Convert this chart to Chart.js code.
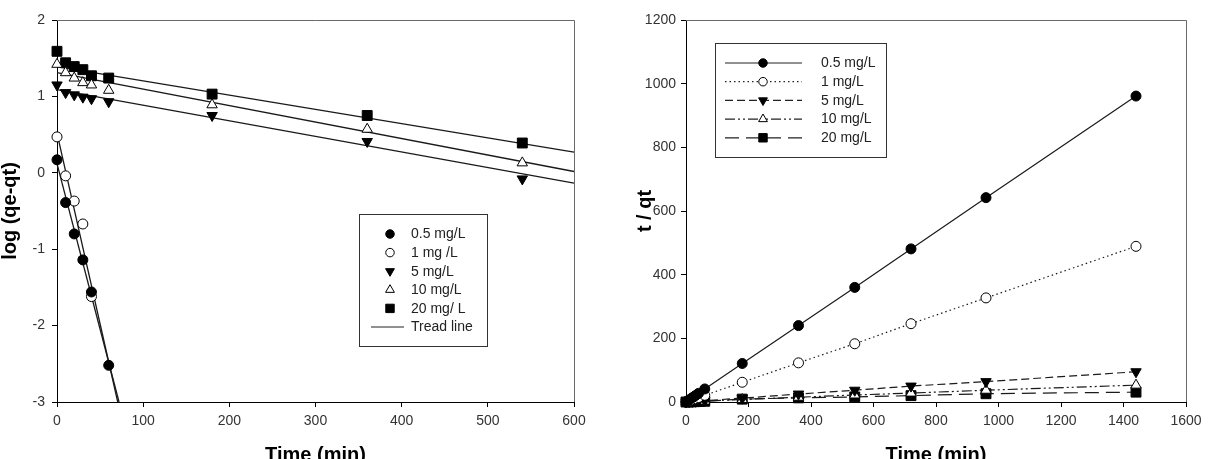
<!DOCTYPE html>
<html>
<head>
<meta charset="utf-8">
<script src="https://cdn.jsdelivr.net/npm/chart.js@4.4.0/dist/chart.umd.min.js"></script>
<style>
    html, body { margin: 0; padding: 0; background: #fff; overflow: hidden; }
    #wrap { position: relative; width: 1209px; height: 459px; overflow: hidden; background: #fff; }
    #left-chart { position: absolute; left: 0; top: 0; }
    #right-chart { position: absolute; left: 604px; top: 0; }
</style>
</head>
<body>
<div id="wrap">
    <canvas id="left-chart" width="604" height="470"></canvas>
    <canvas id="right-chart" width="605" height="470"></canvas>
</div>
<script>
// ---------- data: left panel, log (qe-qt) vs time ----------
const timeLeft = [0, 10, 20, 30, 40, 60, 180, 360, 540];
const logC05 = [0.17, -0.39, -0.80, -1.14, -1.56, -2.52];
const logC1 = [0.47, -0.04, -0.37, -0.67, -1.62];
const logC5 = [1.15, 1.05, 1.02, 0.99, 0.97, 0.93, 0.75, 0.41, -0.08];
const logC10 = [1.42, 1.31, 1.24, 1.18, 1.15, 1.08, 0.89, 0.57, 0.13];
const logC20 = [1.59, 1.44, 1.39, 1.35, 1.27, 1.24, 1.03, 0.75, 0.39];

// trend lines, start and end of each fitted line
const trendX05 = [0, 72];
const trendY05 = [0.12, -3];
const trendX1 = [0, 70.5];
const trendY1 = [0.52, -3];
const trendX5 = [0, 600];
const trendY5 = [1.09, -0.135];
const trendX10 = [0, 600];
const trendY10 = [1.31, 0.017];
const trendX20 = [0, 600];
const trendY20 = [1.39, 0.27];

const labelsLeft = ["0.5 mg/L", "1 mg /L", "5 mg/L", "10 mg/L", "20 mg/ L"];
const trendLabel = "Tread line";

// ---------- data: right panel, t/qt vs time ----------
const timeRight = [0, 10, 20, 30, 40, 60, 180, 360, 540, 720, 960, 1440];
const tq05 = [0, 7, 13.5, 20, 27, 41, 121, 240, 360, 481, 642, 961];
const tq1 = [0, 3.5, 7, 10.5, 14, 21, 62, 123, 183, 246, 327, 489];
const tq5 = [0, 0.8, 1.5, 2.3, 3, 4.5, 12, 25, 37, 50, 64, 95];
const tq10 = [0, 0.5, 1, 1.4, 1.9, 2.8, 8, 15, 22, 28, 37, 53];
const tq20 = [0, 0.4, 0.8, 1.1, 1.5, 2.2, 9, 13, 16, 20, 26, 31];

const labelsRight = ["0.5 mg/L", "1 mg/L", "5 mg/L", "10 mg/L", "20 mg/L"];

const xTicksLeft = [0, 100, 200, 300, 400, 500, 600];
const yTicksLeft = [-3, -2, -1, 0, 1, 2];
const xTicksRight = [0, 200, 400, 600, 800, 1000, 1200, 1400, 1600];
const yTicksRight = [0, 200, 400, 600, 800, 1000, 1200];

// ---------- styles ----------
const FONT = "'Liberation Sans', Arial, Helvetica, sans-serif";

const markerStyles = [
    { pointStyle: "circle", fill: "#000", radius: 5, rotation: 0 },
    { pointStyle: "circle", fill: "#fff", radius: 5, rotation: 0 },
    { pointStyle: "triangle", fill: "#000", radius: 6, rotation: 180 },
    { pointStyle: "triangle", fill: "#fff", radius: 6, rotation: 0 },
    { pointStyle: "rect", fill: "#000", radius: 7, rotation: 0 },
];

const rightDashes = [[], [1.5, 3], [8, 4], [10, 3, 2, 3, 2, 3], [14, 7]];

function toPoints(xs, ys) {
    return ys.map((y, i) => ({ x: xs[i], y: y }));
}

// frame: top and right edge of the plot box
const framePlugin = {
    id: "frame",
    beforeDatasetsDraw(chart) {
        const { ctx, chartArea: a } = chart;
        ctx.save();
        ctx.strokeStyle = "#6a6a6a";
        ctx.lineWidth = 1;
        ctx.beginPath();
        ctx.moveTo(a.left, a.top + 0.5);
        ctx.lineTo(a.right + 0.5, a.top + 0.5);
        ctx.lineTo(a.right + 0.5, a.bottom);
        ctx.stroke();
        ctx.restore();
    }
};

function drawMarker(ctx, m, x, y, r) {
    ctx.fillStyle = m.fill;
    ctx.strokeStyle = "#000";
    ctx.lineWidth = 1;
    Chart.helpers.drawPoint(ctx, {
        pointStyle: m.pointStyle,
        radius: r || m.radius,
        rotation: m.rotation,
        borderWidth: 1
    }, x, y);
}

// boxed legend drawn inside the plot
const boxLegendPlugin = {
    id: "boxLegend",
    afterDraw(chart, args, opts) {
        if (!opts || !opts.rows) return;
        const ctx = chart.ctx;
        ctx.save();
        ctx.strokeStyle = "#333";
        ctx.lineWidth = 1;
        ctx.fillStyle = "#fff";
        ctx.fillRect(opts.box[0], opts.box[1], opts.box[2], opts.box[3]);
        ctx.strokeRect(opts.box[0] + 0.5, opts.box[1] + 0.5, opts.box[2], opts.box[3]);

        ctx.font = "14px " + FONT;
        ctx.textBaseline = "middle";
        opts.rows.forEach((row, i) => {
            const y = opts.firstY + i * opts.step;
            if (row.line) {
                ctx.save();
                ctx.strokeStyle = "#222";
                ctx.lineWidth = 1.2;
                ctx.setLineDash(row.dash || []);
                ctx.beginPath();
                ctx.moveTo(row.line[0], y);
                ctx.lineTo(row.line[1], y);
                ctx.stroke();
                ctx.restore();
            }
            if (row.marker) {
                drawMarker(ctx, row.marker, opts.markerX, y, row.marker.radius * 0.85);
            }
            ctx.fillStyle = "#222";
            ctx.fillText(row.text, opts.textX, y + 0.5);
        });
        ctx.restore();
    }
};

function axisTitle(text, padding, lineHeight) {
    return {
        display: true,
        text: text,
        color: "#000",
        font: { family: FONT, size: 20, weight: "bold", lineHeight: lineHeight },
        padding: padding
    };
}

function linearAxis(min, max, step, width, height, labelPad, title) {
    return {
        type: "linear",
        min: min,
        max: max,
        afterFit: (scale) => {
            if (width != null) scale.width = width;
            if (height != null) scale.height = height;
        },
        grid: {
            display: true,
            drawOnChartArea: false,
            drawTicks: true,
            tickLength: 5,
            color: "#000",
            tickColor: "#000"
        },
        border: { display: true, color: "#000", width: 1 },
        ticks: {
            stepSize: step,
            padding: labelPad,
            color: "#333",
            font: { family: FONT, size: 14 },
            maxRotation: 0,
            autoSkip: false,
            callback: (v) => String(v)
        },
        title: title
    };
}

// ---------- left chart ----------
const leftSeries = [logC05, logC1, logC5, logC10, logC20];
const leftTrends = [
    [trendX05, trendY05], [trendX1, trendY1], [trendX5, trendY5],
    [trendX10, trendY10], [trendX20, trendY20]
];

const leftDatasets = [];
leftSeries.forEach((vals, i) => {
    const m = markerStyles[i];
    leftDatasets.push({
        label: labelsLeft[i],
        data: toPoints(timeLeft, vals),
        showLine: false,
        pointStyle: m.pointStyle,
        pointRadius: m.radius,
        pointRotation: m.rotation,
        pointBackgroundColor: m.fill,
        pointBorderColor: "#000",
        pointBorderWidth: 1,
        clip: false,
        order: 0
    });
});
leftTrends.forEach((tr) => {
    leftDatasets.push({
        label: trendLabel,
        data: toPoints(tr[0], tr[1]),
        showLine: true,
        borderColor: "#1a1a1a",
        borderWidth: 1.3,
        pointRadius: 0,
        clip: false,
        order: 1
    });
});

new Chart(document.getElementById("left-chart"), {
    type: "scatter",
    data: { datasets: leftDatasets },
    plugins: [framePlugin, boxLegendPlugin],
    options: {
        responsive: false,
        animation: false,
        devicePixelRatio: 1,
        layout: { padding: { left: 0, right: 30, top: 20, bottom: 0 } },
        scales: {
            x: linearAxis(0, 600, 100, null, 68, 6, axisTitle("Time (min)", { top: 0, bottom: 3 }, 1.2)),
            y: linearAxis(-3, 2, 1, 57, null, 7, axisTitle("log (qe-qt)", { top: 0, bottom: 0 }, 1))
        },
        plugins: {
            legend: { display: false },
            tooltip: { enabled: false },
            boxLegend: {
                box: [359, 214, 128, 132],
                markerX: 390,
                textX: 411,
                firstY: 234,
                step: 18.6,
                rows: labelsLeft.map((t, i) => ({ text: t, marker: markerStyles[i] }))
                    .concat([{ text: trendLabel, line: [371, 404] }])
            }
        }
    }
});

// ---------- right chart ----------
const rightSeries = [tq05, tq1, tq5, tq10, tq20];

const rightDatasets = rightSeries.map((vals, i) => {
    const m = markerStyles[i];
    return {
        label: labelsRight[i],
        data: toPoints(timeRight, vals),
        showLine: true,
        borderColor: "#1a1a1a",
        borderWidth: 1.2,
        borderDash: rightDashes[i],
        pointStyle: m.pointStyle,
        pointRadius: m.radius,
        pointRotation: m.rotation,
        pointBackgroundColor: m.fill,
        pointBorderColor: "#000",
        pointBorderWidth: 1,
        clip: false
    };
});

new Chart(document.getElementById("right-chart"), {
    type: "scatter",
    data: { datasets: rightDatasets },
    plugins: [framePlugin, boxLegendPlugin],
    options: {
        responsive: false,
        animation: false,
        devicePixelRatio: 1,
        layout: { padding: { left: 0, right: 23, top: 20, bottom: 0 } },
        scales: {
            x: linearAxis(0, 1600, 200, null, 68, 6, axisTitle("Time (min)", { top: 0, bottom: 3 }, 1.2)),
            y: linearAxis(0, 1200, 200, 82, null, 5, axisTitle("t / qt", { top: 31, bottom: 0 }, 1))
        },
        plugins: {
            legend: { display: false },
            tooltip: { enabled: false },
            boxLegend: {
                box: [111, 43, 171, 114],
                markerX: 159,
                textX: 217,
                firstY: 63,
                step: 18.7,
                rows: labelsRight.map((t, i) => ({
                    text: t,
                    marker: markerStyles[i],
                    line: [121, 198],
                    dash: rightDashes[i]
                }))
            }
        }
    }
});
</script>
</body>
</html>
